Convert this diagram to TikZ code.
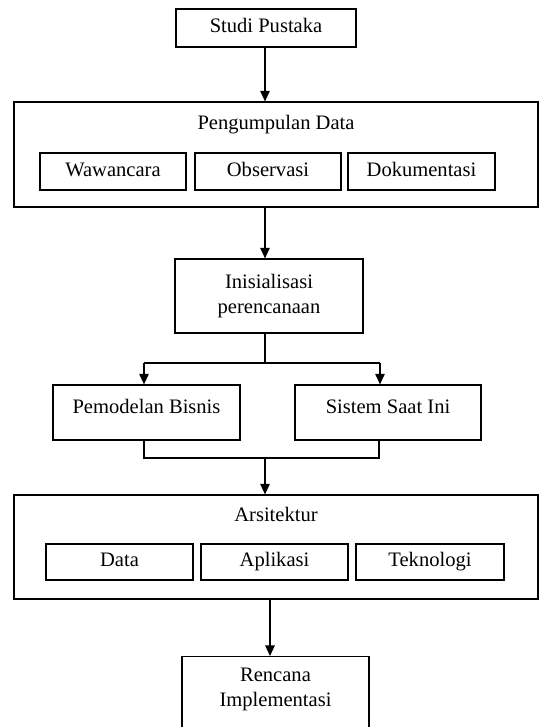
\documentclass[tikz,border=0pt]{standalone}
\usepackage{fontspec}
\setmainfont{Liberation Serif}
\usetikzlibrary{arrows.meta, positioning, calc}

\begin{document}
\begin{tikzpicture}[
    x=0.02cm, y=-0.02cm,
    font=\fontsize{11.7}{14.3}\selectfont, >={Triangle[length=6pt, width=5.4pt]},
    line width=0.7pt,
    blk/.style={draw, align=center, inner sep=2pt, minimum width=#1},
    blk/.default=2.92cm,
    cell/.style={text height=8pt, text depth=2.6pt},
  ]
    \useasboundingbox (0,0) rectangle (539,727);

    % Top: literature study
    \node[blk=3.6cm, cell, minimum height=0.76cm] (studi) at (266,28) {Studi Pustaka};

    % Data collection block
    \node[blk=10.48cm, minimum height=2.1cm] (peng) at (276,154.5) {};
    \node[cell] (pengT) at (276,125) {Pengumpulan Data};
    \node[blk, cell, minimum height=0.74cm] (waw) at (113,171.5) {Wawancara};
    \node[blk, cell, minimum height=0.74cm] (obs) at (268,171.5) {Observasi};
    \node[blk=2.94cm, cell, minimum height=0.74cm] (dok) at (421.5,171.5) {Dokumentasi};

    % Planning
    \node[blk=3.76cm, minimum height=1.48cm] (inis) at (269,296) {Inisialisasi\\perencanaan};

    % Two branches
    \node[blk=3.74cm, cell, minimum height=1.1cm, text depth=7pt] (pem) at (146.5,412.5) {Pemodelan Bisnis};
    \node[blk=3.72cm, cell, minimum height=1.1cm, text depth=7pt] (sis) at (388,412.5) {Sistem Saat Ini};

    % Architecture block
    \node[blk=10.48cm, minimum height=2.08cm] (arsi) at (276,547) {};
    \node[cell] (arsiT) at (276,517) {Arsitektur};
    \node[blk=2.94cm, cell, minimum height=0.72cm] (data) at (119.5,562) {Data};
    \node[blk=2.94cm, cell, minimum height=0.72cm] (apl) at (274.5,562) {Aplikasi};
    \node[blk=2.96cm, cell, minimum height=0.72cm] (tek) at (430,562) {Teknologi};

    % Bottom: implementation plan
    \node[blk=3.74cm, anchor=north, inner sep=4pt] (ren) at (275.5,656) {%
      \begin{tabular}{c}
        Rencana\\
        Implementasi\\[0.6cm]
      \end{tabular}};

    % split / merge points
    \coordinate (split) at (265,363);
    \coordinate (splitL) at (144,363);
    \coordinate (splitR) at (380,363);
    \coordinate (merge) at (265,458);
    \coordinate (mergeL) at (144,458);
    \coordinate (mergeR) at (379,458);
    \coordinate (renIn) at ($(ren.north)+(-5.5,0)$);

    \draw[->] (studi.south -| split) -- (split |- peng.north);
    \draw[->] (peng.south -| split) -- (split |- inis.north);
    \draw (split |- inis.south) -- (split);
    \draw (splitL) -- (splitR);
    \draw[->] (splitL) -- (splitL |- pem.north);
    \draw[->] (splitR) -- (splitR |- sis.north);
    \draw (mergeL |- pem.south) -- (mergeL) -- (mergeR) -- (mergeR |- sis.south);
    \draw[->] (merge) -- (merge |- arsi.north);
    \draw[->] (arsi.south -| renIn) -- (renIn);
  \end{tikzpicture}
\end{document}
